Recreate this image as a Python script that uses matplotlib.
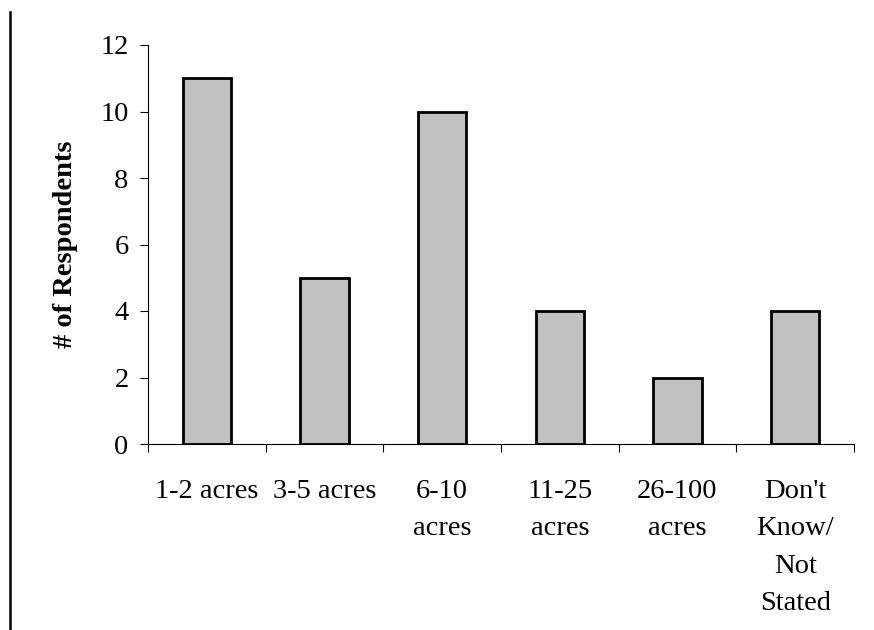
import matplotlib
matplotlib.use("Agg")
import matplotlib.pyplot as plt
from matplotlib.lines import Line2D

categories = ["1-2 acres", "3-5 acres", "6-10\nacres", "11-25\nacres",
              "26-100\nacres", "Don't\nKnow/\nNot\nStated"]
respondents = [11, 5, 10, 4, 2, 4]

plt.rcParams["font.family"] = ["Liberation Serif", "DejaVu Serif"]

fig = plt.figure(figsize=(8.74, 6.3), dpi=100)
ax = fig.add_axes([148 / 874, 1 - 444 / 630, (854 - 148) / 874, (444 - 45) / 630])

x = range(len(categories))
ax.bar(x, respondents, width=0.41, color="#c0c0c0", edgecolor="black", linewidth=2)

ax.set_xlim(-0.5, len(categories) - 0.5)
ax.set_ylim(0, 12)
ax.set_yticks(range(0, 13, 2))
ax.tick_params(axis="y", direction="out", length=6, width=0.8, pad=8, labelsize=20.5)

# ticks sit on the category boundaries, labels under the bars
ax.set_xticks([i - 0.5 for i in range(len(categories) + 1)])
ax.set_xticklabels([])
ax.set_xticks(list(x), minor=True)
ax.set_xticklabels(categories, minor=True, fontsize=20.5, linespacing=1.66, va="top")
ax.tick_params(axis="x", which="major", direction="out", length=6, width=0.8)
ax.tick_params(axis="x", which="minor", length=0, pad=25)

for side in ("top", "right"):
    ax.spines[side].set_visible(False)
for side in ("left", "bottom"):
    ax.spines[side].set_linewidth(0.8)

ax.set_ylabel("# of Respondents", fontsize=20.5, fontweight="bold")
ax.yaxis.set_label_coords((78 - 148) / 706, 0.5)

# vertical rule along the left edge of the page
fig.add_artist(Line2D([10 / 874, 10 / 874], [0, 1 - 12 / 630],
                      transform=fig.transFigure, color="black", linewidth=1.8))

fig.savefig("out.png", dpi=100)
